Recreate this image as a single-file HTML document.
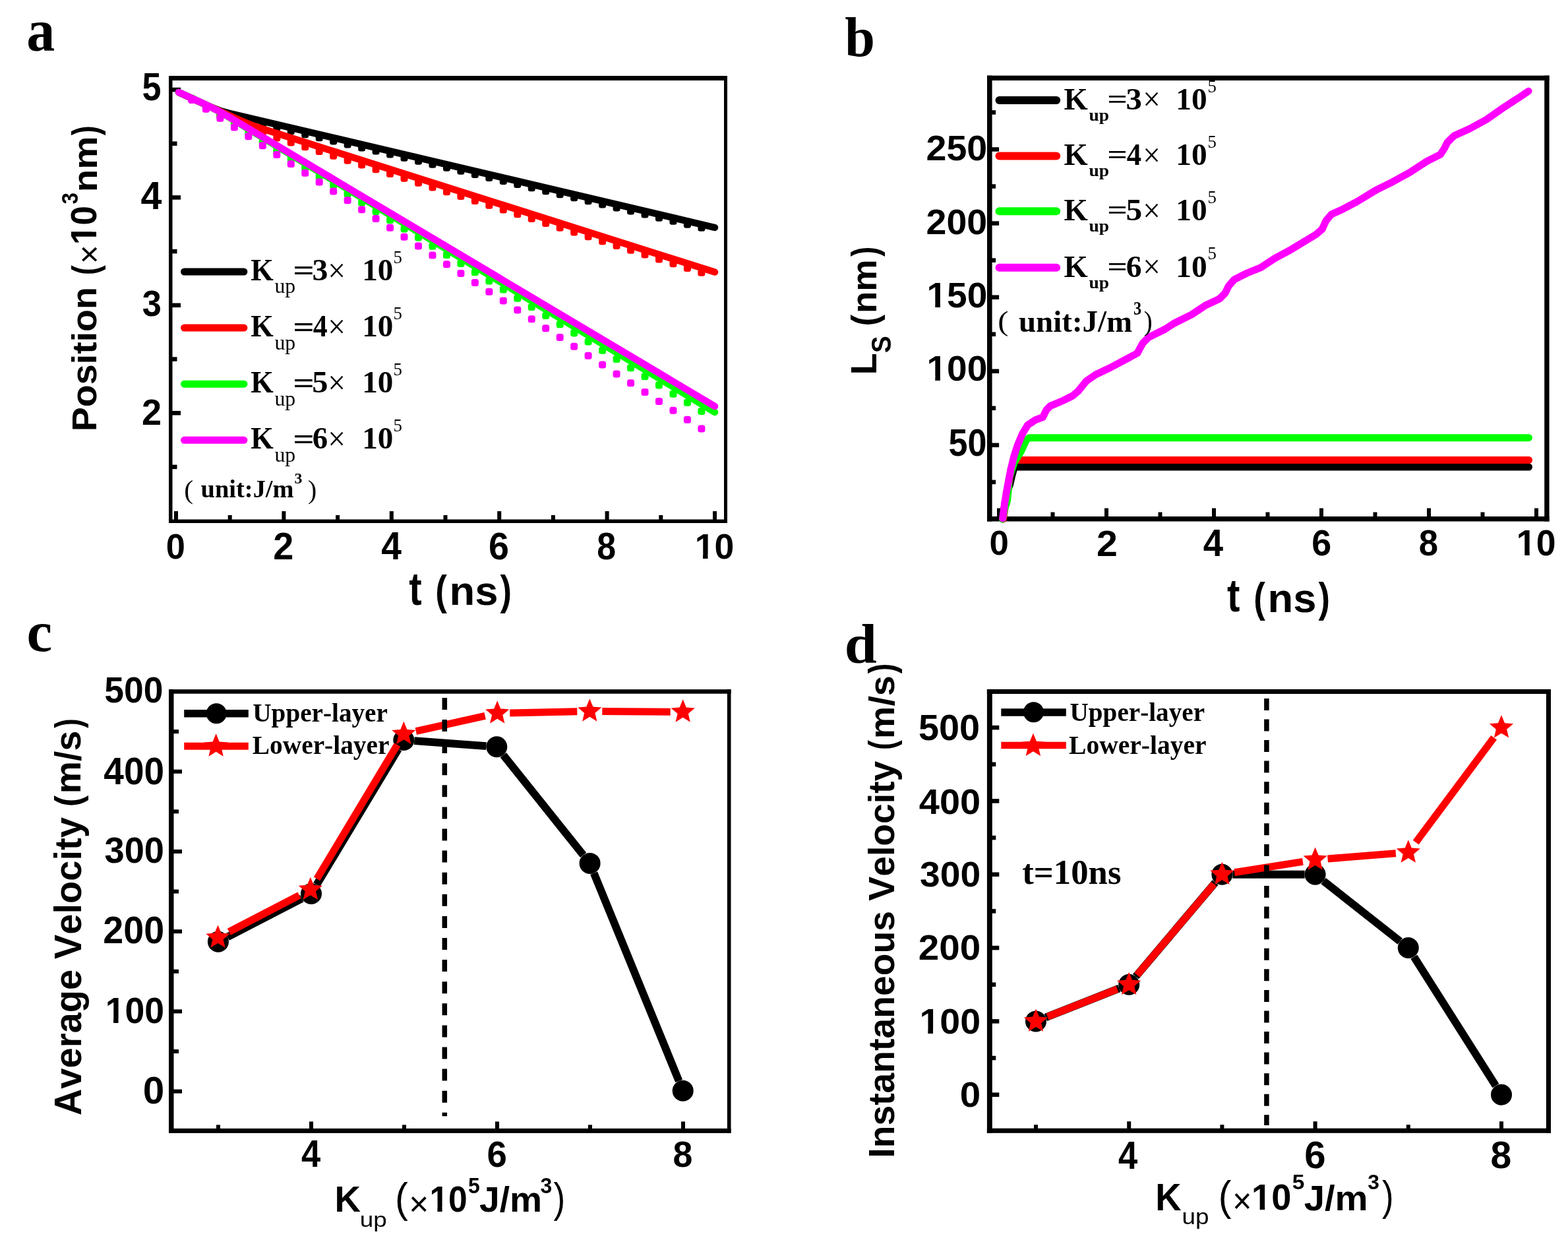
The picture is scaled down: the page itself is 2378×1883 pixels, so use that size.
<!DOCTYPE html>
<html><head><meta charset="utf-8"><title>Figure</title><style>
html,body{margin:0;padding:0;background:#fff;}
body{width:2378px;height:1883px;overflow:hidden;}
svg{display:block;}
text{font-size:100px;white-space:pre;font-kerning:none;font-feature-settings:"kern" 0,"liga" 0;}
.sb{font-family:"Liberation Sans",Arial,sans-serif;font-weight:bold;}
.rb{font-family:"Liberation Serif","Times New Roman",serif;font-weight:bold;}
.s{font-family:"Liberation Sans",Arial,sans-serif;}
.r{font-family:"Liberation Serif","Times New Roman",serif;}
</style></head><body>
<svg width="2378" height="1883" viewBox="0 0 2378 1883">
<defs><clipPath id="nf1" clipPathUnits="userSpaceOnUse"><path clip-rule="evenodd" d="M-500,-500H3000V500H-500Z M5,-12H23.2V3H5Z M37.1,-12H55V3H37.1Z"/></clipPath></defs>
<rect width="2378" height="1883" fill="#fff"/>
<rect x="256" y="115" width="5.5" height="678" fill="#000"/>
<rect x="256" y="115" width="847" height="7" fill="#000"/>
<rect x="1098" y="115" width="5" height="678" fill="#000"/>
<rect x="256" y="787.5" width="847" height="5.5" fill="#000"/>
<rect x="264" y="775" width="6" height="13.5" fill="#000"/>
<rect x="427.4" y="775" width="6" height="13.5" fill="#000"/>
<rect x="590.8" y="775" width="6" height="13.5" fill="#000"/>
<rect x="754.2" y="775" width="6" height="13.5" fill="#000"/>
<rect x="917.6" y="775" width="6" height="13.5" fill="#000"/>
<rect x="1081" y="775" width="6" height="13.5" fill="#000"/>
<rect x="345.7" y="781" width="6" height="7.5" fill="#000"/>
<rect x="509.1" y="781" width="6" height="7.5" fill="#000"/>
<rect x="672.5" y="781" width="6" height="7.5" fill="#000"/>
<rect x="835.9" y="781" width="6" height="7.5" fill="#000"/>
<rect x="999.3" y="781" width="6" height="7.5" fill="#000"/>
<rect x="260.5" y="132.75" width="13.5" height="6.5" fill="#000"/>
<rect x="260.5" y="296.15" width="13.5" height="6.5" fill="#000"/>
<rect x="260.5" y="459.55" width="13.5" height="6.5" fill="#000"/>
<rect x="260.5" y="622.95" width="13.5" height="6.5" fill="#000"/>
<rect x="260.5" y="214.45" width="8" height="6.5" fill="#000"/>
<rect x="260.5" y="377.85" width="8" height="6.5" fill="#000"/>
<rect x="260.5" y="541.25" width="8" height="6.5" fill="#000"/>
<rect x="260.5" y="704.65" width="8" height="6.5" fill="#000"/>
<rect x="1497" y="114.6" width="7.6" height="675.9" fill="#000"/>
<rect x="1497" y="114.6" width="852.6" height="7.4" fill="#000"/>
<rect x="2342.2" y="114.6" width="7.4" height="675.9" fill="#000"/>
<rect x="1497" y="783" width="852.6" height="7.5" fill="#000"/>
<rect x="1512" y="770.5" width="6" height="13.5" fill="#000"/>
<rect x="1675" y="770.5" width="6" height="13.5" fill="#000"/>
<rect x="1838" y="770.5" width="6" height="13.5" fill="#000"/>
<rect x="2001" y="770.5" width="6" height="13.5" fill="#000"/>
<rect x="2164" y="770.5" width="6" height="13.5" fill="#000"/>
<rect x="2327" y="770.5" width="6" height="13.5" fill="#000"/>
<rect x="1593.5" y="776.5" width="6" height="7.5" fill="#000"/>
<rect x="1756.5" y="776.5" width="6" height="7.5" fill="#000"/>
<rect x="1919.5" y="776.5" width="6" height="7.5" fill="#000"/>
<rect x="2082.5" y="776.5" width="6" height="7.5" fill="#000"/>
<rect x="2245.5" y="776.5" width="6" height="7.5" fill="#000"/>
<rect x="1503.6" y="671.6" width="11.5" height="6.5" fill="#000"/>
<rect x="1503.6" y="559.5" width="11.5" height="6.5" fill="#000"/>
<rect x="1503.6" y="447.41" width="11.5" height="6.5" fill="#000"/>
<rect x="1503.6" y="335.31" width="11.5" height="6.5" fill="#000"/>
<rect x="1503.6" y="223.22" width="11.5" height="6.5" fill="#000"/>
<rect x="1503.6" y="727.64" width="6.5" height="6.5" fill="#000"/>
<rect x="1503.6" y="615.55" width="6.5" height="6.5" fill="#000"/>
<rect x="1503.6" y="503.45" width="6.5" height="6.5" fill="#000"/>
<rect x="1503.6" y="391.36" width="6.5" height="6.5" fill="#000"/>
<rect x="1503.6" y="279.26" width="6.5" height="6.5" fill="#000"/>
<rect x="1503.6" y="167.17" width="6.5" height="6.5" fill="#000"/>
<rect x="256" y="1045.2" width="7.5" height="672.7" fill="#000"/>
<rect x="256" y="1045.2" width="852.5" height="6.5" fill="#000"/>
<rect x="1102.9" y="1045.2" width="5.6" height="672.7" fill="#000"/>
<rect x="256" y="1710.9" width="852.5" height="7" fill="#000"/>
<rect x="469" y="1700.4" width="6" height="11.5" fill="#000"/>
<rect x="751" y="1700.4" width="6" height="11.5" fill="#000"/>
<rect x="1033" y="1700.4" width="6" height="11.5" fill="#000"/>
<rect x="328" y="1705.4" width="6" height="6.5" fill="#000"/>
<rect x="610" y="1705.4" width="6" height="6.5" fill="#000"/>
<rect x="892" y="1705.4" width="6" height="6.5" fill="#000"/>
<rect x="262.5" y="1651.6" width="13.5" height="6" fill="#000"/>
<rect x="262.5" y="1530.39" width="13.5" height="6" fill="#000"/>
<rect x="262.5" y="1409.18" width="13.5" height="6" fill="#000"/>
<rect x="262.5" y="1287.97" width="13.5" height="6" fill="#000"/>
<rect x="262.5" y="1166.76" width="13.5" height="6" fill="#000"/>
<rect x="262.5" y="1590.99" width="8.5" height="6" fill="#000"/>
<rect x="262.5" y="1469.78" width="8.5" height="6" fill="#000"/>
<rect x="262.5" y="1348.57" width="8.5" height="6" fill="#000"/>
<rect x="262.5" y="1227.37" width="8.5" height="6" fill="#000"/>
<rect x="262.5" y="1106.15" width="8.5" height="6" fill="#000"/>
<rect x="1496.9" y="1045" width="7.9" height="672.8" fill="#000"/>
<rect x="1496.9" y="1045" width="855.1" height="7" fill="#000"/>
<rect x="2344.9" y="1045" width="7.1" height="672.8" fill="#000"/>
<rect x="1496.9" y="1710.7" width="855.1" height="7.1" fill="#000"/>
<rect x="1709.2" y="1700.2" width="6" height="11.5" fill="#000"/>
<rect x="1991.6" y="1700.2" width="6" height="11.5" fill="#000"/>
<rect x="2274" y="1700.2" width="6" height="11.5" fill="#000"/>
<rect x="1568" y="1705.2" width="6" height="6.5" fill="#000"/>
<rect x="1850.4" y="1705.2" width="6" height="6.5" fill="#000"/>
<rect x="2132.8" y="1705.2" width="6" height="6.5" fill="#000"/>
<rect x="1503.8" y="1656.45" width="11.5" height="6.5" fill="#000"/>
<rect x="1503.8" y="1545.13" width="11.5" height="6.5" fill="#000"/>
<rect x="1503.8" y="1433.81" width="11.5" height="6.5" fill="#000"/>
<rect x="1503.8" y="1322.49" width="11.5" height="6.5" fill="#000"/>
<rect x="1503.8" y="1211.17" width="11.5" height="6.5" fill="#000"/>
<rect x="1503.8" y="1099.85" width="11.5" height="6.5" fill="#000"/>
<rect x="1503.8" y="1600.79" width="6.5" height="6.5" fill="#000"/>
<rect x="1503.8" y="1489.47" width="6.5" height="6.5" fill="#000"/>
<rect x="1503.8" y="1378.15" width="6.5" height="6.5" fill="#000"/>
<rect x="1503.8" y="1266.83" width="6.5" height="6.5" fill="#000"/>
<rect x="1503.8" y="1155.51" width="6.5" height="6.5" fill="#000"/>
<text class="rb" transform="translate(40.32 77) scale(0.8616 0.9165)">a</text>
<rect x="285.47" y="144.96" width="11" height="11" rx="3.5" fill="#000"/>
<rect x="306.94" y="158.32" width="11" height="11" rx="3.5" fill="#000"/>
<rect x="328.41" y="167.95" width="11" height="11" rx="3.5" fill="#000"/>
<rect x="349.88" y="173" width="11" height="11" rx="3.5" fill="#000"/>
<rect x="371.35" y="178.06" width="11" height="11" rx="3.5" fill="#000"/>
<rect x="392.82" y="183.11" width="11" height="11" rx="3.5" fill="#000"/>
<rect x="414.29" y="188.17" width="11" height="11" rx="3.5" fill="#000"/>
<rect x="435.76" y="193.22" width="11" height="11" rx="3.5" fill="#000"/>
<rect x="457.23" y="198.27" width="11" height="11" rx="3.5" fill="#000"/>
<rect x="478.7" y="203.33" width="11" height="11" rx="3.5" fill="#000"/>
<rect x="500.17" y="208.38" width="11" height="11" rx="3.5" fill="#000"/>
<rect x="521.64" y="213.44" width="11" height="11" rx="3.5" fill="#000"/>
<rect x="543.11" y="218.49" width="11" height="11" rx="3.5" fill="#000"/>
<rect x="564.58" y="223.54" width="11" height="11" rx="3.5" fill="#000"/>
<rect x="586.05" y="228.6" width="11" height="11" rx="3.5" fill="#000"/>
<rect x="607.52" y="233.65" width="11" height="11" rx="3.5" fill="#000"/>
<rect x="628.99" y="238.71" width="11" height="11" rx="3.5" fill="#000"/>
<rect x="650.46" y="243.76" width="11" height="11" rx="3.5" fill="#000"/>
<rect x="671.93" y="248.82" width="11" height="11" rx="3.5" fill="#000"/>
<rect x="693.4" y="253.87" width="11" height="11" rx="3.5" fill="#000"/>
<rect x="714.87" y="258.92" width="11" height="11" rx="3.5" fill="#000"/>
<rect x="736.34" y="263.98" width="11" height="11" rx="3.5" fill="#000"/>
<rect x="757.81" y="269.03" width="11" height="11" rx="3.5" fill="#000"/>
<rect x="779.28" y="274.09" width="11" height="11" rx="3.5" fill="#000"/>
<rect x="800.75" y="279.14" width="11" height="11" rx="3.5" fill="#000"/>
<rect x="822.22" y="284.19" width="11" height="11" rx="3.5" fill="#000"/>
<rect x="843.69" y="289.25" width="11" height="11" rx="3.5" fill="#000"/>
<rect x="865.16" y="294.3" width="11" height="11" rx="3.5" fill="#000"/>
<rect x="886.63" y="299.36" width="11" height="11" rx="3.5" fill="#000"/>
<rect x="908.1" y="304.41" width="11" height="11" rx="3.5" fill="#000"/>
<rect x="929.57" y="309.46" width="11" height="11" rx="3.5" fill="#000"/>
<rect x="951.04" y="314.52" width="11" height="11" rx="3.5" fill="#000"/>
<rect x="972.51" y="319.57" width="11" height="11" rx="3.5" fill="#000"/>
<rect x="993.98" y="324.63" width="11" height="11" rx="3.5" fill="#000"/>
<rect x="1015.45" y="329.68" width="11" height="11" rx="3.5" fill="#000"/>
<rect x="1036.92" y="334.73" width="11" height="11" rx="3.5" fill="#000"/>
<rect x="1058.39" y="339.79" width="11" height="11" rx="3.5" fill="#000"/>
<path d="M271,139.9 L318,161.4 Q333,168.2 348,171.8 L1084,345" fill="none" stroke="#000" stroke-width="10.5" stroke-linecap="round" stroke-linejoin="round"/>
<rect x="285.47" y="145.46" width="11" height="11" rx="3.5" fill="#ff0000"/>
<rect x="306.94" y="159.31" width="11" height="11" rx="3.5" fill="#ff0000"/>
<rect x="328.41" y="170.13" width="11" height="11" rx="3.5" fill="#ff0000"/>
<rect x="349.88" y="179.95" width="11" height="11" rx="3.5" fill="#ff0000"/>
<rect x="371.35" y="189.76" width="11" height="11" rx="3.5" fill="#ff0000"/>
<rect x="392.82" y="196.81" width="11" height="11" rx="3.5" fill="#ff0000"/>
<rect x="414.29" y="203.61" width="11" height="11" rx="3.5" fill="#ff0000"/>
<rect x="435.76" y="210.42" width="11" height="11" rx="3.5" fill="#ff0000"/>
<rect x="457.23" y="217.23" width="11" height="11" rx="3.5" fill="#ff0000"/>
<rect x="478.7" y="224.03" width="11" height="11" rx="3.5" fill="#ff0000"/>
<rect x="500.17" y="230.84" width="11" height="11" rx="3.5" fill="#ff0000"/>
<rect x="521.64" y="237.64" width="11" height="11" rx="3.5" fill="#ff0000"/>
<rect x="543.11" y="244.45" width="11" height="11" rx="3.5" fill="#ff0000"/>
<rect x="564.58" y="251.26" width="11" height="11" rx="3.5" fill="#ff0000"/>
<rect x="586.05" y="258.06" width="11" height="11" rx="3.5" fill="#ff0000"/>
<rect x="607.52" y="264.87" width="11" height="11" rx="3.5" fill="#ff0000"/>
<rect x="628.99" y="271.67" width="11" height="11" rx="3.5" fill="#ff0000"/>
<rect x="650.46" y="278.48" width="11" height="11" rx="3.5" fill="#ff0000"/>
<rect x="671.93" y="285.29" width="11" height="11" rx="3.5" fill="#ff0000"/>
<rect x="693.4" y="292.09" width="11" height="11" rx="3.5" fill="#ff0000"/>
<rect x="714.87" y="298.9" width="11" height="11" rx="3.5" fill="#ff0000"/>
<rect x="736.34" y="305.7" width="11" height="11" rx="3.5" fill="#ff0000"/>
<rect x="757.81" y="312.51" width="11" height="11" rx="3.5" fill="#ff0000"/>
<rect x="779.28" y="319.32" width="11" height="11" rx="3.5" fill="#ff0000"/>
<rect x="800.75" y="326.12" width="11" height="11" rx="3.5" fill="#ff0000"/>
<rect x="822.22" y="332.93" width="11" height="11" rx="3.5" fill="#ff0000"/>
<rect x="843.69" y="339.73" width="11" height="11" rx="3.5" fill="#ff0000"/>
<rect x="865.16" y="346.54" width="11" height="11" rx="3.5" fill="#ff0000"/>
<rect x="886.63" y="353.35" width="11" height="11" rx="3.5" fill="#ff0000"/>
<rect x="908.1" y="360.15" width="11" height="11" rx="3.5" fill="#ff0000"/>
<rect x="929.57" y="366.96" width="11" height="11" rx="3.5" fill="#ff0000"/>
<rect x="951.04" y="373.76" width="11" height="11" rx="3.5" fill="#ff0000"/>
<rect x="972.51" y="380.57" width="11" height="11" rx="3.5" fill="#ff0000"/>
<rect x="993.98" y="387.38" width="11" height="11" rx="3.5" fill="#ff0000"/>
<rect x="1015.45" y="394.18" width="11" height="11" rx="3.5" fill="#ff0000"/>
<rect x="1036.92" y="400.99" width="11" height="11" rx="3.5" fill="#ff0000"/>
<rect x="1058.39" y="407.79" width="11" height="11" rx="3.5" fill="#ff0000"/>
<path d="M271,139.9 L362,181.5 Q378.6,189 395,194.3 L1084,412.6" fill="none" stroke="#ff0000" stroke-width="10.5" stroke-linecap="round" stroke-linejoin="round"/>
<rect x="285.47" y="143.81" width="11" height="11" rx="3.5" fill="#00ff00"/>
<rect x="306.94" y="156.98" width="11" height="11" rx="3.5" fill="#00ff00"/>
<rect x="328.41" y="170.15" width="11" height="11" rx="3.5" fill="#00ff00"/>
<rect x="349.88" y="183.32" width="11" height="11" rx="3.5" fill="#00ff00"/>
<rect x="371.35" y="196.49" width="11" height="11" rx="3.5" fill="#00ff00"/>
<rect x="392.82" y="209.66" width="11" height="11" rx="3.5" fill="#00ff00"/>
<rect x="414.29" y="222.84" width="11" height="11" rx="3.5" fill="#00ff00"/>
<rect x="435.76" y="236.01" width="11" height="11" rx="3.5" fill="#00ff00"/>
<rect x="457.23" y="249.18" width="11" height="11" rx="3.5" fill="#00ff00"/>
<rect x="478.7" y="262.35" width="11" height="11" rx="3.5" fill="#00ff00"/>
<rect x="500.17" y="275.52" width="11" height="11" rx="3.5" fill="#00ff00"/>
<rect x="521.64" y="288.7" width="11" height="11" rx="3.5" fill="#00ff00"/>
<rect x="543.11" y="301.87" width="11" height="11" rx="3.5" fill="#00ff00"/>
<rect x="564.58" y="315.04" width="11" height="11" rx="3.5" fill="#00ff00"/>
<rect x="586.05" y="328.21" width="11" height="11" rx="3.5" fill="#00ff00"/>
<rect x="607.52" y="341.38" width="11" height="11" rx="3.5" fill="#00ff00"/>
<rect x="628.99" y="354.56" width="11" height="11" rx="3.5" fill="#00ff00"/>
<rect x="650.46" y="367.73" width="11" height="11" rx="3.5" fill="#00ff00"/>
<rect x="671.93" y="380.9" width="11" height="11" rx="3.5" fill="#00ff00"/>
<rect x="693.4" y="394.07" width="11" height="11" rx="3.5" fill="#00ff00"/>
<rect x="714.87" y="407.24" width="11" height="11" rx="3.5" fill="#00ff00"/>
<rect x="736.34" y="420.41" width="11" height="11" rx="3.5" fill="#00ff00"/>
<rect x="757.81" y="433.59" width="11" height="11" rx="3.5" fill="#00ff00"/>
<rect x="779.28" y="446.76" width="11" height="11" rx="3.5" fill="#00ff00"/>
<rect x="800.75" y="459.93" width="11" height="11" rx="3.5" fill="#00ff00"/>
<rect x="822.22" y="473.1" width="11" height="11" rx="3.5" fill="#00ff00"/>
<rect x="843.69" y="486.27" width="11" height="11" rx="3.5" fill="#00ff00"/>
<rect x="865.16" y="499.45" width="11" height="11" rx="3.5" fill="#00ff00"/>
<rect x="886.63" y="512.62" width="11" height="11" rx="3.5" fill="#00ff00"/>
<rect x="908.1" y="525.79" width="11" height="11" rx="3.5" fill="#00ff00"/>
<rect x="929.57" y="538.96" width="11" height="11" rx="3.5" fill="#00ff00"/>
<rect x="951.04" y="552.13" width="11" height="11" rx="3.5" fill="#00ff00"/>
<rect x="972.51" y="565.3" width="11" height="11" rx="3.5" fill="#00ff00"/>
<rect x="993.98" y="578.48" width="11" height="11" rx="3.5" fill="#00ff00"/>
<rect x="1015.45" y="591.65" width="11" height="11" rx="3.5" fill="#00ff00"/>
<rect x="1036.92" y="604.82" width="11" height="11" rx="3.5" fill="#00ff00"/>
<rect x="1058.39" y="617.99" width="11" height="11" rx="3.5" fill="#00ff00"/>
<path d="M271,139.9 L312,158.6 Q328.6,166.2 345,176.3 L380,197.5 L1084,625" fill="none" stroke="#00ff00" stroke-width="10.5" stroke-linecap="round" stroke-linejoin="round"/>
<rect x="285.47" y="145.96" width="11" height="11" rx="3.5" fill="#ff00ff"/>
<rect x="306.94" y="159.81" width="11" height="11" rx="3.5" fill="#ff00ff"/>
<rect x="328.41" y="173.66" width="11" height="11" rx="3.5" fill="#ff00ff"/>
<rect x="349.88" y="187.51" width="11" height="11" rx="3.5" fill="#ff00ff"/>
<rect x="371.35" y="201.35" width="11" height="11" rx="3.5" fill="#ff00ff"/>
<rect x="392.82" y="215.2" width="11" height="11" rx="3.5" fill="#ff00ff"/>
<rect x="414.29" y="229.05" width="11" height="11" rx="3.5" fill="#ff00ff"/>
<rect x="435.76" y="242.9" width="11" height="11" rx="3.5" fill="#ff00ff"/>
<rect x="457.23" y="256.75" width="11" height="11" rx="3.5" fill="#ff00ff"/>
<rect x="478.7" y="270.59" width="11" height="11" rx="3.5" fill="#ff00ff"/>
<rect x="500.17" y="284.44" width="11" height="11" rx="3.5" fill="#ff00ff"/>
<rect x="521.64" y="298.29" width="11" height="11" rx="3.5" fill="#ff00ff"/>
<rect x="543.11" y="312.14" width="11" height="11" rx="3.5" fill="#ff00ff"/>
<rect x="564.58" y="325.99" width="11" height="11" rx="3.5" fill="#ff00ff"/>
<rect x="586.05" y="339.83" width="11" height="11" rx="3.5" fill="#ff00ff"/>
<rect x="607.52" y="353.68" width="11" height="11" rx="3.5" fill="#ff00ff"/>
<rect x="628.99" y="367.53" width="11" height="11" rx="3.5" fill="#ff00ff"/>
<rect x="650.46" y="381.38" width="11" height="11" rx="3.5" fill="#ff00ff"/>
<rect x="671.93" y="395.23" width="11" height="11" rx="3.5" fill="#ff00ff"/>
<rect x="693.4" y="409.08" width="11" height="11" rx="3.5" fill="#ff00ff"/>
<rect x="714.87" y="422.92" width="11" height="11" rx="3.5" fill="#ff00ff"/>
<rect x="736.34" y="436.77" width="11" height="11" rx="3.5" fill="#ff00ff"/>
<rect x="757.81" y="450.62" width="11" height="11" rx="3.5" fill="#ff00ff"/>
<rect x="779.28" y="464.47" width="11" height="11" rx="3.5" fill="#ff00ff"/>
<rect x="800.75" y="478.32" width="11" height="11" rx="3.5" fill="#ff00ff"/>
<rect x="822.22" y="492.16" width="11" height="11" rx="3.5" fill="#ff00ff"/>
<rect x="843.69" y="506.01" width="11" height="11" rx="3.5" fill="#ff00ff"/>
<rect x="865.16" y="519.86" width="11" height="11" rx="3.5" fill="#ff00ff"/>
<rect x="886.63" y="533.71" width="11" height="11" rx="3.5" fill="#ff00ff"/>
<rect x="908.1" y="547.56" width="11" height="11" rx="3.5" fill="#ff00ff"/>
<rect x="929.57" y="561.41" width="11" height="11" rx="3.5" fill="#ff00ff"/>
<rect x="951.04" y="575.25" width="11" height="11" rx="3.5" fill="#ff00ff"/>
<rect x="972.51" y="589.1" width="11" height="11" rx="3.5" fill="#ff00ff"/>
<rect x="993.98" y="602.95" width="11" height="11" rx="3.5" fill="#ff00ff"/>
<rect x="1015.45" y="616.8" width="11" height="11" rx="3.5" fill="#ff00ff"/>
<rect x="1036.92" y="630.65" width="11" height="11" rx="3.5" fill="#ff00ff"/>
<rect x="1058.39" y="644.49" width="11" height="11" rx="3.5" fill="#ff00ff"/>
<path d="M271,139.9 L312,158.6 Q328.6,166.2 345,176 L380,196.8 L1084,616" fill="none" stroke="#ff00ff" stroke-width="10.5" stroke-linecap="round" stroke-linejoin="round"/>
<text class="sb" transform="translate(215.6 152.43) scale(0.5205 0.5833)">5</text>
<text class="sb" transform="translate(213.43 316.5) scale(0.5731 0.6003)">4</text>
<text class="sb" transform="translate(215.7 479.18) scale(0.5231 0.5553)">3</text>
<text class="sb" transform="translate(215.03 643.5) scale(0.5400 0.5628)">2</text>
<text class="sb" transform="translate(251.83 846.97) scale(0.5236 0.5438)">0</text>
<text class="sb" transform="translate(414.36 848.4) scale(0.5587 0.5786)">2</text>
<text class="sb" transform="translate(578.16 848.4) scale(0.5526 0.5872)">4</text>
<text class="sb" transform="translate(740.96 847.84) scale(0.5565 0.5706)">6</text>
<text class="sb" transform="translate(905.35 847.84) scale(0.5186 0.5706)">8</text>
<text class="sb" transform="translate(1053.63 846.97) scale(0.5356 0.5438)" clip-path="url(#nf1)">10</text>
<text class="sb" transform="translate(620.19 916.88) scale(0.5833 0.7018)">t</text>
<text class="sb" transform="translate(660.37 917.28) scale(0.5279 0.6373)">(</text>
<text class="sb" transform="translate(681.62 917.3) scale(0.6339 0.6164)">ns</text>
<text class="sb" transform="translate(758.55 917.28) scale(0.5244 0.6373)">)</text>
<text class="sb" transform="translate(146.39 654.32) rotate(-90) scale(0.5564 0.5270)">Position</text>
<text class="sb" transform="translate(148.08 417.02) rotate(-90) scale(0.4464 0.5504)">(</text>
<text class="s" transform="translate(152.61 399.99) rotate(-90) scale(0.4890 0.5198)">×</text>
<text class="sb" transform="translate(146.37 371.04) rotate(-90) scale(0.5296 0.5466)" clip-path="url(#nf1)">10</text>
<text class="sb" transform="translate(117.6 309.42) rotate(-90) scale(0.3118 0.3566)">3</text>
<text class="sb" transform="translate(146.9 291.32) rotate(-90) scale(0.5641 0.5217)">nm</text>
<text class="sb" transform="translate(148.08 205.34) rotate(-90) scale(0.4464 0.5504)">)</text>
<line x1="279.5" y1="412" x2="369.9" y2="412" stroke="#000" stroke-width="11" stroke-linecap="round"/>
<text class="rb" transform="translate(380.24 425.1) scale(0.4436 0.4719)">K</text>
<text class="r" transform="translate(416.48 444.46) scale(0.3176 0.3070)">up</text>
<text class="rb" transform="translate(444.15 424.43) scale(0.5722 0.4333)">=</text>
<text class="rb" transform="translate(473.5 425.1) scale(0.4787 0.4720)">3</text>
<text class="r" transform="translate(497.25 426.53) scale(0.4745 0.4985)">×</text>
<text class="rb" transform="translate(549.22 425.1) scale(0.4717 0.4720)">10</text>
<text class="r" transform="translate(596.44 398.94) scale(0.2681 0.2633)">5</text>
<line x1="279.5" y1="497.1" x2="369.9" y2="497.1" stroke="#ff0000" stroke-width="11" stroke-linecap="round"/>
<text class="rb" transform="translate(380.24 510.2) scale(0.4436 0.4719)">K</text>
<text class="r" transform="translate(416.48 529.56) scale(0.3176 0.3070)">up</text>
<text class="rb" transform="translate(444.15 509.53) scale(0.5722 0.4333)">=</text>
<text class="rb" transform="translate(474.7 510.2) scale(0.4382 0.4720)">4</text>
<text class="r" transform="translate(497.25 511.63) scale(0.4745 0.4985)">×</text>
<text class="rb" transform="translate(549.22 510.2) scale(0.4717 0.4720)">10</text>
<text class="r" transform="translate(596.44 484.04) scale(0.2681 0.2633)">5</text>
<line x1="279.5" y1="582.2" x2="369.9" y2="582.2" stroke="#00ff00" stroke-width="11" stroke-linecap="round"/>
<text class="rb" transform="translate(380.24 595.3) scale(0.4436 0.4719)">K</text>
<text class="r" transform="translate(416.48 614.66) scale(0.3176 0.3070)">up</text>
<text class="rb" transform="translate(444.15 594.63) scale(0.5722 0.4333)">=</text>
<text class="rb" transform="translate(473.36 595.3) scale(0.4842 0.4720)">5</text>
<text class="r" transform="translate(497.25 596.73) scale(0.4745 0.4985)">×</text>
<text class="rb" transform="translate(549.22 595.3) scale(0.4717 0.4720)">10</text>
<text class="r" transform="translate(596.44 569.14) scale(0.2681 0.2633)">5</text>
<line x1="279.5" y1="667.3" x2="369.9" y2="667.3" stroke="#ff00ff" stroke-width="11" stroke-linecap="round"/>
<text class="rb" transform="translate(380.24 680.4) scale(0.4436 0.4719)">K</text>
<text class="r" transform="translate(416.48 699.76) scale(0.3176 0.3070)">up</text>
<text class="rb" transform="translate(444.15 679.73) scale(0.5722 0.4333)">=</text>
<text class="rb" transform="translate(473.69 680.4) scale(0.4696 0.4720)">6</text>
<text class="r" transform="translate(497.25 681.83) scale(0.4745 0.4985)">×</text>
<text class="rb" transform="translate(549.22 680.4) scale(0.4717 0.4720)">10</text>
<text class="r" transform="translate(596.44 654.24) scale(0.2681 0.2633)">5</text>
<text class="r" transform="translate(279.37 755.64) scale(0.4166 0.3926)">(</text>
<text class="rb" transform="translate(304.62 754.4) scale(0.3843 0.3880)">unit:J/m</text>
<text class="rb" transform="translate(446.6 733.28) scale(0.2382 0.2277)">3</text>
<text class="r" transform="translate(467.12 755.64) scale(0.3971 0.3926)">)</text>
<text class="rb" transform="translate(1281.16 84.97) scale(0.8212 0.8485)">b</text>
<polyline points="1520.5,787 1524,763 1527.5,745 1531.5,735 1534.5,722 1537.5,711 1541,708 2318.5,708" fill="none" stroke="#000" stroke-width="11" stroke-linecap="round" stroke-linejoin="round"/>
<polyline points="1521.5,787 1525.5,760 1529.5,735 1533,712 1537.5,700 1541,697.5 2318.5,697.5" fill="none" stroke="#ff0000" stroke-width="11" stroke-linecap="round" stroke-linejoin="round"/>
<polyline points="1520.5,787 1523.5,772 1527.5,760 1529,745 1530.3,725 1538,701.5 1548.7,684 1556.5,667 1561,663.7 2318.5,663.7" fill="none" stroke="#00ff00" stroke-width="11" stroke-linecap="round" stroke-linejoin="round"/>
<polyline points="1520.6,786 1523.7,762.9 1526.5,745.4 1529.8,727.8 1533.3,710.2 1537.5,692.7 1543.2,675.1 1550.6,657.6 1558.6,644.4 1570.3,636.7 1581.5,632.5 1587.1,621.3 1592.7,615.6 1612.4,607.2 1626.5,600.2 1634.9,593.2 1647.5,577.7 1661.6,567.9 1682.7,558 1703.7,546.8 1724.8,535.5 1733.2,520.1 1741.7,511.7 1767,499 1780,490.5 1807.8,476.6 1828.7,462.7 1849.5,453 1857.9,444.6 1863.4,433.5 1871.8,423.8 1891.3,414 1912.1,405.7 1933,391.8 1953.9,380.7 1974.7,368.2 1995.6,355.6 2005.3,347.3 2010.9,334.8 2019.2,325 2037.3,316.7 2058.2,305.6 2086,288.7 2111.9,275.8 2137.9,261.5 2163.8,244.6 2184.6,234.2 2191.1,223.8 2195,216 2205.4,205.7 2228.7,195.3 2254.7,181 2280.7,162.8 2306.6,146 2318,138.2" fill="none" stroke="#ff00ff" stroke-width="11" stroke-linecap="round" stroke-linejoin="round"/>
<text class="sb" transform="translate(1404.57 243.37) scale(0.5556 0.5381)">250</text>
<text class="sb" transform="translate(1404.57 355.27) scale(0.5556 0.5381)">200</text>
<text class="sb" transform="translate(1405.54 465.97) scale(0.5497 0.5395)" clip-path="url(#nf1)">150</text>
<text class="sb" transform="translate(1405.54 576.57) scale(0.5497 0.5381)" clip-path="url(#nf1)">100</text>
<text class="sb" transform="translate(1438.6 691.14) scale(0.5209 0.5706)">50</text>
<text class="sb" transform="translate(1500.51 841.49) scale(0.5278 0.5268)">0</text>
<text class="sb" transform="translate(1662.91 842.9) scale(0.5733 0.5571)">2</text>
<text class="sb" transform="translate(1824.77 842.9) scale(0.5451 0.5654)">4</text>
<text class="sb" transform="translate(1989.13 842.36) scale(0.5379 0.5494)">6</text>
<text class="sb" transform="translate(2151.73 842.36) scale(0.5267 0.5494)">8</text>
<text class="sb" transform="translate(2299.82 842.17) scale(0.5365 0.5466)" clip-path="url(#nf1)">10</text>
<text class="sb" transform="translate(1861.09 927.38) scale(0.5833 0.7018)">t</text>
<text class="sb" transform="translate(1901.27 927.78) scale(0.5279 0.6373)">(</text>
<text class="sb" transform="translate(1922.52 927.8) scale(0.6339 0.6164)">ns</text>
<text class="sb" transform="translate(1999.45 927.78) scale(0.5244 0.6373)">)</text>
<text class="sb" transform="translate(1328.7 568.31) rotate(-90) scale(0.5398 0.5581)">L</text>
<text class="sb" transform="translate(1351.08 534.92) rotate(-90) scale(0.3872 0.4280)">S</text>
<text class="sb" transform="translate(1330.03 494.61) rotate(-90) scale(0.5244 0.5525)">(</text>
<text class="sb" transform="translate(1328.7 474.99) rotate(-90) scale(0.5444 0.5329)">nm</text>
<text class="sb" transform="translate(1330.03 389.04) rotate(-90) scale(0.4571 0.5525)">)</text>
<line x1="1515.5" y1="152.1" x2="1602.2" y2="152.1" stroke="#000" stroke-width="12" stroke-linecap="round"/>
<text class="rb" transform="translate(1613.5 165.9) scale(0.4662 0.4719)">K</text>
<text class="rb" transform="translate(1651.48 182.95) scale(0.2754 0.2558)">up</text>
<text class="rb" transform="translate(1679.21 163.84) scale(0.5400 0.4037)">=</text>
<text class="rb" transform="translate(1707.56 165.9) scale(0.4881 0.4720)">3</text>
<text class="r" transform="translate(1733.27 167.45) scale(0.4720 0.5083)">×</text>
<text class="rb" transform="translate(1783.2 165.9) scale(0.4740 0.4720)">10</text>
<text class="r" transform="translate(1831.44 139.74) scale(0.2681 0.2633)">5</text>
<line x1="1515.5" y1="236.4" x2="1602.2" y2="236.4" stroke="#ff0000" stroke-width="12" stroke-linecap="round"/>
<text class="rb" transform="translate(1613.5 250.2) scale(0.4662 0.4719)">K</text>
<text class="rb" transform="translate(1651.48 267.25) scale(0.2754 0.2558)">up</text>
<text class="rb" transform="translate(1679.21 248.14) scale(0.5400 0.4037)">=</text>
<text class="rb" transform="translate(1708.79 250.2) scale(0.4468 0.4720)">4</text>
<text class="r" transform="translate(1733.27 251.75) scale(0.4720 0.5083)">×</text>
<text class="rb" transform="translate(1783.2 250.2) scale(0.4740 0.4720)">10</text>
<text class="r" transform="translate(1831.44 224.04) scale(0.2681 0.2633)">5</text>
<line x1="1515.5" y1="320.2" x2="1602.2" y2="320.2" stroke="#00ff00" stroke-width="12" stroke-linecap="round"/>
<text class="rb" transform="translate(1613.5 334) scale(0.4662 0.4719)">K</text>
<text class="rb" transform="translate(1651.48 351.05) scale(0.2754 0.2558)">up</text>
<text class="rb" transform="translate(1679.21 331.94) scale(0.5400 0.4037)">=</text>
<text class="rb" transform="translate(1707.42 334) scale(0.4937 0.4720)">5</text>
<text class="r" transform="translate(1733.27 335.55) scale(0.4720 0.5083)">×</text>
<text class="rb" transform="translate(1783.2 334) scale(0.4740 0.4720)">10</text>
<text class="r" transform="translate(1831.44 307.84) scale(0.2681 0.2633)">5</text>
<line x1="1515.5" y1="405.8" x2="1602.2" y2="405.8" stroke="#ff00ff" stroke-width="12" stroke-linecap="round"/>
<text class="rb" transform="translate(1613.5 419.6) scale(0.4662 0.4719)">K</text>
<text class="rb" transform="translate(1651.48 436.65) scale(0.2754 0.2558)">up</text>
<text class="rb" transform="translate(1679.21 417.54) scale(0.5400 0.4037)">=</text>
<text class="rb" transform="translate(1707.76 419.6) scale(0.4788 0.4720)">6</text>
<text class="r" transform="translate(1733.27 421.15) scale(0.4720 0.5083)">×</text>
<text class="rb" transform="translate(1783.2 419.6) scale(0.4740 0.4720)">10</text>
<text class="r" transform="translate(1831.44 393.44) scale(0.2681 0.2633)">5</text>
<text class="r" transform="translate(1513.36 501.38) scale(0.4867 0.4191)">(</text>
<text class="rb" transform="translate(1544.99 502.5) scale(0.4696 0.4730)">unit:J/m</text>
<text class="rb" transform="translate(1719.09 476.9) scale(0.2429 0.3021)">3</text>
<text class="r" transform="translate(1734.75 501.38) scale(0.3894 0.4191)">)</text>
<text class="rb" transform="translate(40.42 987) scale(0.8707 0.8658)">c</text>
<text class="sb" transform="translate(158.36 1065.06) scale(0.5336 0.5494)">500</text>
<text class="sb" transform="translate(157.37 1188.53) scale(0.5495 0.5805)">400</text>
<text class="sb" transform="translate(158.56 1308.28) scale(0.5422 0.5553)">300</text>
<text class="sb" transform="translate(156.27 1429.83) scale(0.5563 0.5791)">200</text>
<text class="sb" transform="translate(159.63 1551.36) scale(0.5357 0.5565)" clip-path="url(#nf1)">100</text>
<text class="sb" transform="translate(216.69 1672.73) scale(0.5845 0.5791)">0</text>
<text class="sb" transform="translate(457.11 1769.3) scale(0.5246 0.5785)">4</text>
<text class="sb" transform="translate(738.5 1768.75) scale(0.5461 0.5621)">6</text>
<text class="sb" transform="translate(1020.6 1769.36) scale(0.5368 0.5494)">8</text>
<text class="sb" transform="translate(507.44 1837.3) scale(0.5464 0.5640)">K</text>
<text class="s" transform="translate(545.71 1859.67) scale(0.3680 0.3194)">up</text>
<text class="s" transform="translate(599.1 1838.47) scale(0.5959 0.6247)">(</text>
<text class="s" transform="translate(620.34 1842.94) scale(0.5137 0.5131)">×</text>
<text class="sb" transform="translate(651.45 1836.76) scale(0.5157 0.5480)" clip-path="url(#nf1)">10</text>
<text class="sb" transform="translate(710.12 1808.77) scale(0.3196 0.3411)">5</text>
<text class="sb" transform="translate(726.96 1837.3) scale(0.5516 0.5420)">J/m</text>
<text class="sb" transform="translate(819.57 1808.72) scale(0.3199 0.3355)">3</text>
<text class="s" transform="translate(839.39 1838.47) scale(0.5318 0.6247)">)</text>
<text class="sb" transform="translate(123.13 1691.2) rotate(-90) scale(0.5612 0.5745)">Average Velocity</text>
<text class="sb" transform="translate(122.12 1223.29) rotate(-90) scale(0.5209 0.5482)">(</text>
<text class="sb" transform="translate(122.4 1203.25) rotate(-90) scale(0.5544 0.5520)">m/s</text>
<text class="sb" transform="translate(122.12 1103.74) rotate(-90) scale(0.4287 0.5482)">)</text>
<line x1="279.2" y1="1081.7" x2="376.8" y2="1081.7" stroke="#000" stroke-width="11.6" stroke-linecap="butt"/>
<circle cx="328.2" cy="1081.7" r="15.5" fill="#000"/>
<line x1="279.2" y1="1131.3" x2="376.8" y2="1131.3" stroke="#ff0000" stroke-width="11" stroke-linecap="butt"/>
<polygon points="327.6,1112.3 332.63,1124.38 345.67,1125.43 335.73,1133.94 338.77,1146.67 327.6,1139.85 316.43,1146.67 319.47,1133.94 309.53,1125.43 322.57,1124.38" fill="#f00"/>
<text class="rb" transform="translate(383.32 1094.2) scale(0.3919 0.3940)">Upper-layer</text>
<text class="rb" transform="translate(382.83 1142.6) scale(0.3936 0.3940)">Lower-layer</text>
<line x1="345.12" y1="1420.46" x2="457.78" y2="1362.34" stroke="#000" stroke-width="11.8" stroke-linecap="butt"/>
<line x1="480.25" y1="1341.29" x2="604.05" y2="1135.71" stroke="#000" stroke-width="11.8" stroke-linecap="butt"/>
<line x1="628.26" y1="1123.17" x2="737.34" y2="1131.13" stroke="#000" stroke-width="11.8" stroke-linecap="butt"/>
<line x1="763.3" y1="1144.79" x2="884.6" y2="1296.41" stroke="#000" stroke-width="11.8" stroke-linecap="butt"/>
<line x1="900.66" y1="1323.71" x2="1029.64" y2="1638.89" stroke="#000" stroke-width="11.8" stroke-linecap="butt"/>
<circle cx="330.9" cy="1427.8" r="16" fill="#000"/>
<circle cx="472" cy="1355" r="16" fill="#000"/>
<circle cx="612.3" cy="1122" r="16" fill="#000"/>
<circle cx="753.3" cy="1132.3" r="16" fill="#000"/>
<circle cx="894.6" cy="1308.9" r="16" fill="#000"/>
<circle cx="1035.7" cy="1653.7" r="16" fill="#000"/>
<line x1="347.36" y1="1412.75" x2="453.94" y2="1357.45" stroke="#ff0000" stroke-width="11" stroke-linecap="butt"/>
<line x1="480.57" y1="1332.41" x2="602.53" y2="1129.09" stroke="#ff0000" stroke-width="11" stroke-linecap="butt"/>
<line x1="630.85" y1="1108.68" x2="735.65" y2="1085.42" stroke="#ff0000" stroke-width="11" stroke-linecap="butt"/>
<line x1="773.2" y1="1080.89" x2="875.3" y2="1078.71" stroke="#ff0000" stroke-width="11" stroke-linecap="butt"/>
<line x1="913.3" y1="1078.43" x2="1016.7" y2="1079.17" stroke="#ff0000" stroke-width="11" stroke-linecap="butt"/>
<polygon points="330.5,1402.5 335.53,1414.58 348.57,1415.63 338.63,1424.14 341.67,1436.87 330.5,1430.05 319.33,1436.87 322.37,1424.14 312.43,1415.63 325.47,1414.58" fill="#f00"/>
<polygon points="470.8,1329.7 475.83,1341.78 488.87,1342.83 478.93,1351.34 481.97,1364.07 470.8,1357.25 459.63,1364.07 462.67,1351.34 452.73,1342.83 465.77,1341.78" fill="#f00"/>
<polygon points="612.3,1093.8 617.33,1105.88 630.37,1106.93 620.43,1115.44 623.47,1128.17 612.3,1121.35 601.13,1128.17 604.17,1115.44 594.23,1106.93 607.27,1105.88" fill="#f00"/>
<polygon points="754.2,1062.3 759.23,1074.38 772.27,1075.43 762.33,1083.94 765.37,1096.67 754.2,1089.85 743.03,1096.67 746.07,1083.94 736.13,1075.43 749.17,1074.38" fill="#f00"/>
<polygon points="894.3,1059.3 899.33,1071.38 912.37,1072.43 902.43,1080.94 905.47,1093.67 894.3,1086.85 883.13,1093.67 886.17,1080.94 876.23,1072.43 889.27,1071.38" fill="#f00"/>
<polygon points="1035.7,1060.3 1040.73,1072.38 1053.77,1073.43 1043.83,1081.94 1046.87,1094.67 1035.7,1087.85 1024.53,1094.67 1027.57,1081.94 1017.63,1073.43 1030.67,1072.38" fill="#f00"/>
<text class="rb" transform="translate(1280.72 1004.97) scale(0.8822 0.8485)">d</text>
<text class="sb" transform="translate(1392.98 1121.96) scale(0.5587 0.5508)">500</text>
<text class="sb" transform="translate(1393.85 1233.78) scale(0.5594 0.5353)">400</text>
<text class="sb" transform="translate(1395.03 1344.4) scale(0.5522 0.5356)">300</text>
<text class="sb" transform="translate(1392.74 1455.18) scale(0.5663 0.5367)">200</text>
<text class="sb" transform="translate(1394.4 1567.48) scale(0.5561 0.5367)" clip-path="url(#nf1)">100</text>
<text class="sb" transform="translate(1455.76 1678.18) scale(0.5656 0.5367)">0</text>
<text class="sb" transform="translate(1696 1771.7) scale(0.5265 0.5829)">4</text>
<text class="sb" transform="translate(1978.37 1771.15) scale(0.5813 0.5664)">6</text>
<text class="sb" transform="translate(2260.49 1771.15) scale(0.5713 0.5664)">8</text>
<text class="sb" transform="translate(1752.35 1834.7) scale(0.5449 0.5654)">K</text>
<text class="s" transform="translate(1792.5 1855.79) scale(0.3690 0.3234)">up</text>
<text class="s" transform="translate(1847.83 1834.5) scale(0.5921 0.6376)">(</text>
<text class="s" transform="translate(1869.35 1838.86) scale(0.4980 0.5422)">×</text>
<text class="sb" transform="translate(1898.08 1834.16) scale(0.5425 0.5494)" clip-path="url(#nf1)">10</text>
<text class="sb" transform="translate(1959.87 1802.89) scale(0.3356 0.3182)">5</text>
<text class="sb" transform="translate(1977.65 1834.7) scale(0.5632 0.5420)">J/m</text>
<text class="sb" transform="translate(2074.17 1802.85) scale(0.3179 0.3129)">3</text>
<text class="s" transform="translate(2095.89 1834.5) scale(0.5280 0.6376)">)</text>
<text class="sb" transform="translate(1355.93 1755.7) rotate(-90) scale(0.5528 0.5525)">Instantaneous Velocity</text>
<text class="sb" transform="translate(1355.82 1137.12) rotate(-90) scale(0.4464 0.5482)">(</text>
<text class="sb" transform="translate(1355.61 1120.17) rotate(-90) scale(0.5575 0.5452)">m/s</text>
<text class="sb" transform="translate(1355.82 1021.15) rotate(-90) scale(0.4677 0.5482)">)</text>
<line x1="1518.3" y1="1080" x2="1616.8" y2="1080" stroke="#000" stroke-width="11.6" stroke-linecap="butt"/>
<circle cx="1567.5" cy="1079.8" r="15.5" fill="#000"/>
<line x1="1518.3" y1="1130" x2="1616.8" y2="1130" stroke="#ff0000" stroke-width="10.5" stroke-linecap="butt"/>
<polygon points="1566.9,1111.7 1571.93,1123.78 1584.97,1124.83 1575.03,1133.34 1578.07,1146.07 1566.9,1139.25 1555.73,1146.07 1558.77,1133.34 1548.83,1124.83 1561.87,1123.78" fill="#f00"/>
<text class="rb" transform="translate(1622.52 1093.4) scale(0.3919 0.3940)">Upper-layer</text>
<text class="rb" transform="translate(1621.12 1142.6) scale(0.3953 0.3940)">Lower-layer</text>
<text class="rb" transform="translate(1550.25 1339.68) scale(0.5275 0.5350)">t=10ns</text>
<line x1="1585.89" y1="1542.51" x2="1697.31" y2="1498.59" stroke="#000" stroke-width="11.8" stroke-linecap="butt"/>
<line x1="1722.53" y1="1480.5" x2="1843.07" y2="1337.96" stroke="#000" stroke-width="11.8" stroke-linecap="butt"/>
<line x1="1869.4" y1="1325.74" x2="1978.6" y2="1325.74" stroke="#000" stroke-width="11.8" stroke-linecap="butt"/>
<line x1="2007.16" y1="1335.65" x2="2123.24" y2="1427.15" stroke="#000" stroke-width="11.8" stroke-linecap="butt"/>
<line x1="2144.37" y1="1450.57" x2="2268.43" y2="1646.19" stroke="#000" stroke-width="11.8" stroke-linecap="butt"/>
<circle cx="1571" cy="1548.38" r="16" fill="#000"/>
<circle cx="1712.2" cy="1492.72" r="16" fill="#000"/>
<circle cx="1853.4" cy="1325.74" r="16" fill="#000"/>
<circle cx="1994.6" cy="1325.74" r="16" fill="#000"/>
<circle cx="2135.8" cy="1437.06" r="16" fill="#000"/>
<circle cx="2277" cy="1659.7" r="16" fill="#000"/>
<line x1="1588.68" y1="1541.41" x2="1694.52" y2="1499.69" stroke="#ff0000" stroke-width="11" stroke-linecap="butt"/>
<line x1="1724.47" y1="1478.21" x2="1841.13" y2="1340.25" stroke="#ff0000" stroke-width="11" stroke-linecap="butt"/>
<line x1="1872.17" y1="1322.78" x2="1975.83" y2="1306.44" stroke="#ff0000" stroke-width="11" stroke-linecap="butt"/>
<line x1="2013.54" y1="1301.98" x2="2116.86" y2="1293.84" stroke="#ff0000" stroke-width="11" stroke-linecap="butt"/>
<line x1="2147.16" y1="1277.12" x2="2265.64" y2="1118.33" stroke="#ff0000" stroke-width="11" stroke-linecap="butt"/>
<polygon points="1571,1529.38 1576.03,1541.46 1589.07,1542.51 1579.13,1551.02 1582.17,1563.75 1571,1556.93 1559.83,1563.75 1562.87,1551.02 1552.93,1542.51 1565.97,1541.46" fill="#f00"/>
<polygon points="1712.2,1473.72 1717.23,1485.8 1730.27,1486.85 1720.33,1495.36 1723.37,1508.09 1712.2,1501.27 1701.03,1508.09 1704.07,1495.36 1694.13,1486.85 1707.17,1485.8" fill="#f00"/>
<polygon points="1853.4,1306.74 1858.43,1318.82 1871.47,1319.87 1861.53,1328.38 1864.57,1341.11 1853.4,1334.29 1842.23,1341.11 1845.27,1328.38 1835.33,1319.87 1848.37,1318.82" fill="#f00"/>
<polygon points="1994.6,1284.48 1999.63,1296.56 2012.67,1297.6 2002.73,1306.12 2005.77,1318.85 1994.6,1312.03 1983.43,1318.85 1986.47,1306.12 1976.53,1297.6 1989.57,1296.56" fill="#f00"/>
<polygon points="2135.8,1273.34 2140.83,1285.43 2153.87,1286.47 2143.93,1294.99 2146.97,1307.72 2135.8,1300.89 2124.63,1307.72 2127.67,1294.99 2117.73,1286.47 2130.77,1285.43" fill="#f00"/>
<polygon points="2277,1084.1 2282.03,1096.18 2295.07,1097.23 2285.13,1105.74 2288.17,1118.47 2277,1111.65 2265.83,1118.47 2268.87,1105.74 2258.93,1097.23 2271.97,1096.18" fill="#f00"/>
<line x1="674.3" y1="1057.9" x2="674.3" y2="1692.3" stroke="#000" stroke-width="7.5" stroke-linecap="butt" stroke-dasharray="18 15.1"/>
<line x1="1920.9" y1="1058.9" x2="1920.9" y2="1706" stroke="#000" stroke-width="7.5" stroke-linecap="butt" stroke-dasharray="18 13.57"/>
</svg>
</body></html>
